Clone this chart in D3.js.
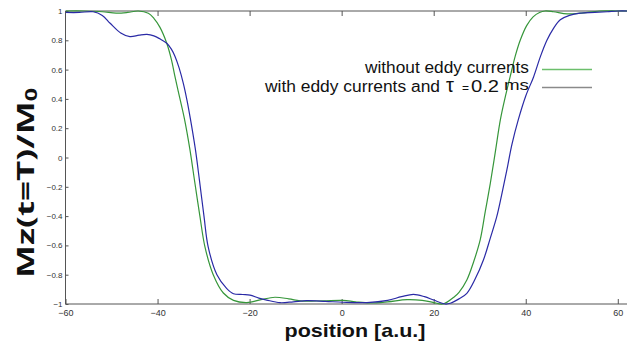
<!DOCTYPE html>
<html><head><meta charset="utf-8">
<script src="https://cdn.jsdelivr.net/npm/d3@7"></script>
<style>body{margin:0;background:#fff;} svg{display:block;}</style>
</head><body>
<svg id="c" width="627" height="345"></svg>
<script>
// Data
const greenX = [-60,-56,-52,-49,-46.5,-44.2,-42,-40.8,-39.5,-38,-37,-36.2,-35.2,-34.2,-33,-32,-30.8,-29.7,-27.9,-25.7,-23.5,-20.6,-17.5,-14.5,-11.5,-8.5,-4,0.3,3,6.2,10,14.2,17.5,20,22,24.5,25.5,27.2,28.7,30.1,31.2,32.3,33.4,34.5,35.6,36.6,37.7,38.8,40.2,41.6,43,44.2,46,49,52,56,60,62.3];
const greenY = [1.0,1.0,0.995,0.985,0.99,1.0,0.985,0.95,0.89,0.78,0.67,0.55,0.41,0.27,0.06,-0.15,-0.40,-0.61,-0.80,-0.925,-0.975,-0.99,-0.97,-0.954,-0.965,-0.98,-0.978,-0.975,-0.985,-0.993,-0.985,-0.97,-0.975,-0.99,-1.0,-0.95,-0.92,-0.836,-0.71,-0.563,-0.37,-0.176,0.04,0.26,0.42,0.55,0.69,0.80,0.90,0.96,0.99,1.0,0.995,0.98,0.985,1.0,1.0,1.0];
const blueX = [-60,-57,-54,-52,-50.3,-48,-46,-44,-42.3,-40.8,-39.5,-38,-37,-36.2,-35.3,-34.4,-33.6,-32.9,-31.8,-30.9,-29.9,-29,-27.1,-25,-23.5,-21.5,-19.9,-18,-16.3,-13.4,-10.5,-7.6,-3.5,0.3,5.5,10,13,15.6,18,20,22.5,23.6,25.5,27.2,29,30.8,32.3,33.7,34.8,35.9,37,38.4,40,41.7,43.2,44.6,46,47.5,49.5,51.8,55,57.7,60,62.3];
const blueY = [0.99,0.99,0.995,0.97,0.916,0.85,0.825,0.835,0.84,0.83,0.81,0.78,0.74,0.69,0.61,0.506,0.39,0.27,0.06,-0.154,-0.404,-0.61,-0.80,-0.893,-0.93,-0.935,-0.939,-0.96,-0.973,-0.991,-0.985,-0.977,-0.982,-0.988,-0.99,-0.975,-0.95,-0.934,-0.95,-0.973,-1.0,-0.995,-0.965,-0.927,-0.83,-0.70,-0.55,-0.404,-0.25,-0.085,0.09,0.26,0.42,0.55,0.69,0.80,0.88,0.94,0.97,0.985,0.99,0.995,1.0,1.0];
const xTicks = [-60,-40,-20,0,20,40,60];
const yTicks = [-1,-0.8,-0.6,-0.4,-0.2,0,0.2,0.4,0.6,0.8,1];
const seriesNames = ["without eddy currents", "with eddy currents and"];

const svg = d3.select("#c");
const x = d3.scaleLinear().domain([-60, 62]).range([65.5, 627]);
const y = d3.scaleLinear().domain([-1, 1]).range([304, 11]);
const axisCol = "#555";

svg.append("defs").append("clipPath").attr("id","clip")
  .append("rect").attr("x",65.5).attr("y",0).attr("width",627-65.5).attr("height",310);

// frame lines
svg.append("line").attr("x1",65.5).attr("x2",627).attr("y1",y(1)).attr("y2",y(1)).attr("stroke",axisCol);
svg.append("line").attr("x1",65.5).attr("x2",627).attr("y1",y(-1)).attr("y2",y(-1)).attr("stroke",axisCol);
svg.append("line").attr("x1",65.5).attr("x2",65.5).attr("y1",y(1)).attr("y2",y(-1)).attr("stroke",axisCol);

// bottom axis
const gb = svg.append("g").attr("transform",`translate(0,${y(-1)})`)
  .call(d3.axisBottom(x).tickValues(xTicks).tickSizeInner(-5).tickSizeOuter(0).tickPadding(6).tickFormat(d3.format("d")));
gb.select(".domain").remove();
gb.selectAll("line").attr("stroke",axisCol);
gb.selectAll("text").attr("fill","#333").style("font-family","Liberation Sans, Arial, sans-serif").style("font-size","9px");

// top ticks
const gt = svg.append("g").attr("transform",`translate(0,${y(1)})`)
  .call(d3.axisTop(x).tickValues(xTicks.slice(1)).tickSizeInner(-5).tickSizeOuter(0).tickFormat(""));
gt.select(".domain").remove();
gt.selectAll("line").attr("stroke",axisCol);

// left axis
const gl = svg.append("g").attr("transform","translate(65.5,0)")
  .call(d3.axisLeft(y).tickValues(yTicks).tickSizeInner(-3).tickSizeOuter(0).tickPadding(3).tickFormat(d3.format("")));
gl.select(".domain").remove();
gl.selectAll("line").attr("stroke",axisCol);
gl.selectAll("text").attr("fill","#333").style("font-family","Liberation Sans, Arial, sans-serif").style("font-size","8px");

// curves
const line = d3.line().x(d=>x(d[0])).y(d=>y(d[1])).curve(d3.curveCatmullRom.alpha(0.5));
const gData = greenX.map((v,i)=>[v,greenY[i]]);
const bData = blueX.map((v,i)=>[v,blueY[i]]);
const gc = svg.append("g").attr("clip-path","url(#clip)");
gc.append("path").attr("d",line(gData)).attr("fill","none").attr("stroke","#36963a").attr("stroke-width",1.2);
gc.append("path").attr("d",line(bData)).attr("fill","none").attr("stroke","#2a2aa6").attr("stroke-width",1.2);

// legend
const lf = "Liberation Sans, Arial, sans-serif";
svg.append("text").attr("x",529).attr("y",72.5).attr("text-anchor","end")
  .style("font-family",lf).style("font-size","16px").attr("fill","#111")
  .attr("textLength",164).attr("lengthAdjust","spacingAndGlyphs").text(seriesNames[0]);
svg.append("line").attr("x1",542).attr("x2",592).attr("y1",69.5).attr("y2",69.5).attr("stroke","#6cbf6c").attr("stroke-width",1.6);
svg.append("text").attr("x",265).attr("y",92)
  .style("font-family",lf).style("font-size","16px").attr("fill","#111")
  .attr("textLength",175).attr("lengthAdjust","spacingAndGlyphs").text(seriesNames[1]);
svg.append("text").attr("x",446).attr("y",92).style("font-family",lf).style("font-size","20px").attr("fill","#111").text("τ");
svg.append("text").attr("x",462).attr("y",92).style("font-family",lf).style("font-size","12px").attr("fill","#111").text("=");
svg.append("text").attr("x",471).attr("y",92).style("font-family",lf).style("font-size","16px").attr("fill","#111")
  .attr("textLength",28).attr("lengthAdjust","spacingAndGlyphs").text("0.2");
svg.append("text").attr("x",529).attr("y",90).attr("text-anchor","end").style("font-family",lf).style("font-size","15px").attr("fill","#111")
  .attr("textLength",25).attr("lengthAdjust","spacingAndGlyphs").text("ms");
svg.append("line").attr("x1",542).attr("x2",592).attr("y1",87.5).attr("y2",87.5).attr("stroke","#8a8a8a").attr("stroke-width",1.6);

// axis titles
const yl = svg.append("text").attr("transform","translate(34,183) rotate(-90)").attr("text-anchor","middle")
  .style("font-family","Open Sans, Liberation Sans, sans-serif").style("font-weight","700").style("font-size","24px").attr("fill","#111")
  .attr("textLength",190).attr("lengthAdjust","spacingAndGlyphs");
yl.append("tspan").text("Mz(t=T)/M");
yl.append("tspan").style("font-size","16px").attr("dy",3).text("0");

svg.append("text").attr("x",355).attr("y",337).attr("text-anchor","middle")
  .style("font-family","Liberation Sans, Arial, sans-serif").style("font-weight","700").style("font-size","19px").attr("fill","#111")
  .attr("textLength",141).attr("lengthAdjust","spacingAndGlyphs").text("position [a.u.]");
</script>
</body></html>
